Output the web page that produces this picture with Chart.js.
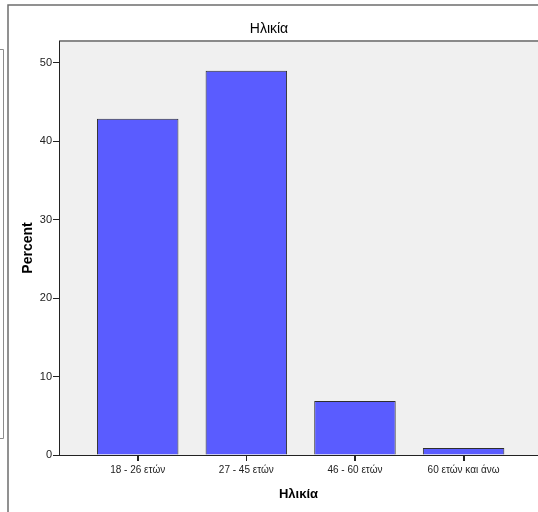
<!DOCTYPE html>
<html>
<head>
<meta charset="utf-8">
<script src="https://cdn.jsdelivr.net/npm/chart.js@4/dist/chart.umd.min.js"></script>
<style>
  html, body { margin: 0; padding: 0; background: #ffffff; }
  #wrap { width: 538px; height: 512px; position: relative; }
</style>
</head>
<body>
<div id="wrap"><canvas id="c" width="538" height="512"></canvas></div>
<script>
// Age groups and their share of respondents (%)
const categories = ['18 - 26 ετών', '27 - 45 ετών', '46 - 60 ετών', '60 ετών και άνω'];
const percentValues = [42.9, 49.0, 6.9, 0.9];
const yTickValues = [0, 10, 20, 30, 40, 50];

const chartTitle = 'Ηλικία';
const xAxisTitle = 'Ηλικία';
const yAxisTitle = 'Percent';

const FONT = '"Liberation Sans", Arial, sans-serif';

// Output-viewer frame and grey plot panel
const framePlugin = {
  id: 'frame',
  beforeDraw(chart) {
    const ctx = chart.ctx;
    const a = chart.chartArea;
    ctx.save();
    ctx.fillStyle = '#ffffff';
    ctx.fillRect(0, 0, chart.width, chart.height);
    // panel
    ctx.fillStyle = '#f0f0f0';
    ctx.fillRect(a.left, a.top, a.right - a.left, a.bottom - a.top);
    ctx.strokeStyle = '#8a8a8a';
    ctx.lineWidth = 2;
    ctx.beginPath();
    ctx.moveTo(a.left, a.top);
    ctx.lineTo(a.right, a.top);
    ctx.stroke();
    // outer frame
    ctx.strokeStyle = '#6e6e6e';
    ctx.lineWidth = 1.5;
    ctx.beginPath();
    ctx.moveTo(8, 512);
    ctx.lineTo(8, 5);
    ctx.lineTo(538, 5);
    ctx.stroke();
    // neighbouring panel edge on the left
    ctx.strokeStyle = '#8c8c8c';
    ctx.lineWidth = 1;
    ctx.beginPath();
    ctx.moveTo(0, 49.5);
    ctx.lineTo(3.5, 49.5);
    ctx.lineTo(3.5, 438.5);
    ctx.lineTo(0, 438.5);
    ctx.stroke();
    ctx.restore();
  },
  // short tick marks under each category on the x axis
  afterDraw(chart) {
    const ctx = chart.ctx;
    const xs = chart.scales.x;
    const base = chart.chartArea.bottom;
    ctx.save();
    ctx.strokeStyle = '#222222';
    ctx.lineWidth = 1;
    xs.ticks.forEach((t, i) => {
      const px = Math.round(xs.getPixelForTick(i)) + 0.5;
      ctx.beginPath();
      ctx.moveTo(px, base);
      ctx.lineTo(px, base + 6);
      ctx.stroke();
    });
    ctx.restore();
  }
};

new Chart(document.getElementById('c'), {
  type: 'bar',
  data: {
    datasets: [{
      data: percentValues.map((v, i) => ({ x: i, y: v })),
      backgroundColor: '#5a5cff',
      borderColor: '#2e2e2e',
      borderWidth: 1,
      categoryPercentage: 1.0,
      barPercentage: 0.75
    }]
  },
  options: {
    responsive: false,
    animation: false,
    devicePixelRatio: 1,
    layout: { padding: { left: 0, right: 0, top: 0, bottom: 0 } },
    plugins: {
      legend: { display: false },
      tooltip: { enabled: false },
      title: {
        display: true,
        text: chartTitle,
        color: '#000000',
        font: { family: FONT, size: 14, weight: 'normal', lineHeight: 1.2 },
        padding: { top: 20.6, bottom: 3.6 }
      }
    },
    scales: {
      x: {
        type: 'linear',
        offset: false,
        min: -0.7245,
        max: 3.685,
        afterBuildTicks(scale) {
          scale.ticks = categories.map((_, i) => ({ value: i }));
        },
        afterFit(scale) { scale.height = 57; },
        ticks: {
          autoSkip: false,
          maxRotation: 0,
          padding: 3,
          color: '#222222',
          font: { family: FONT, size: 10 },
          callback: (v) => categories[v]
        },
        grid: {
          offset: false,
          drawOnChartArea: false,
          drawTicks: true,
          tickLength: 6,
          color: '#222222'
        },
        border: { display: true, color: '#222222', width: 1 },
        title: {
          display: true,
          text: xAxisTitle,
          color: '#000000',
          font: { family: FONT, size: 13, weight: 'bold', lineHeight: 1.2 },
          padding: { top: 0, bottom: 10 }
        }
      },
      y: {
        type: 'linear',
        min: 0,
        max: 52.8,
        afterBuildTicks(scale) {
          scale.ticks = yTickValues.map(v => ({ value: v }));
        },
        afterFit(scale) { scale.width = 59; },
        ticks: {
          includeBounds: false,
          padding: 1,
          color: '#222222',
          font: { family: FONT, size: 11 }
        },
        grid: {
          drawOnChartArea: false,
          drawTicks: true,
          tickLength: 6,
          color: '#222222'
        },
        border: { display: true, color: '#222222', width: 1 },
        title: {
          display: true,
          text: yAxisTitle,
          color: '#000000',
          font: { family: FONT, size: 14, weight: 'bold', lineHeight: 1.2 },
          padding: { top: 20, bottom: 0 }
        }
      }
    }
  },
  plugins: [framePlugin]
});
</script>
</body>
</html>
